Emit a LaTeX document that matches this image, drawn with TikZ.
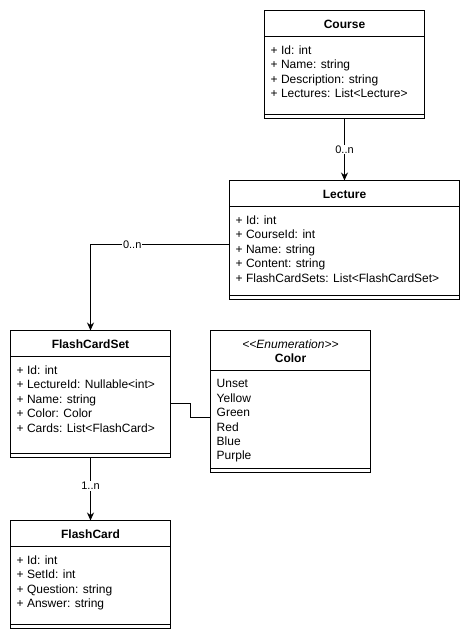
\documentclass[tikz,border=0pt]{standalone}
\usepackage{fontspec}
\setmainfont{Liberation Sans}
\usetikzlibrary{arrows.meta}

\def\rowsize{14.4pt}
\tikzstyle{classbox}=[rectangle, draw=black, line width=1pt, inner sep=0pt, outer sep=0pt, minimum width=160pt]
\tikzstyle{sepline}=[line width=1pt]
\tikzstyle{classname}=[anchor=base, inner sep=0pt, font=\fontsize{12}{14.4}\selectfont\bfseries]
\tikzstyle{attr}=[anchor=base west, inner sep=0pt, font=\fontsize{12}{14.4}\selectfont]
\tikzstyle{mult}=[fill=white, inner sep=1pt, font=\fontsize{11}{13}\selectfont]

\begin{document}
\begin{tikzpicture}[x=1pt, y=-1pt, >={Stealth[length=8pt, width=7pt]}] % y runs down
  \useasboundingbox (0,0) rectangle (470,639);

  % class boxes
  \node [classbox, minimum height=108pt] (course) at (344.5, 64.5) {};
  \node [classbox, minimum width=230pt, minimum height=119pt] (lecture) at (344.5, 240) {};
  \node [classbox, minimum height=127pt] (flashcardset) at (90.5, 394) {};
  \node [classbox, minimum height=142pt] (colorenum) at (290.5, 401.5) {};
  \node [classbox, minimum height=108pt] (flashcard) at (90.5, 574.5) {};

  % header and bottom separators
  \foreach \c/\h in {course/26pt, lecture/26pt, flashcardset/26pt, colorenum/40pt, flashcard/26pt}
  {
    \draw [sepline] ([yshift=-\h]\c.north west) -- ([yshift=-\h]\c.north east);
    \draw [sepline] ([yshift=4pt]\c.south west) -- ([yshift=4pt]\c.south east);
  }

  % class names
  \node [classname] (course-name) at ([yshift=-18pt]course.north) {Course};
  \node [classname] (lecture-name) at ([yshift=-18pt]lecture.north) {Lecture};
  \node [classname] (flashcardset-name) at ([yshift=-18pt]flashcardset.north) {FlashCardSet};
  \node [classname] (flashcard-name) at ([yshift=-18pt]flashcard.north) {FlashCard};
  \node [classname, font=\fontsize{12}{14.4}\selectfont\itshape] (colorenum-stereo) at ([yshift=-17.8pt]colorenum.north) {<\kern0pt<Enumeration>\kern0pt>};
  \node [classname] (colorenum-name) at ([yshift=-32.2pt]colorenum.north) {Color};

  % attributes
  \foreach \t [count=\i] in {+ Id: int, + Name: string, + Description: string, + Lectures: List<Lecture>}
  \node [attr] (course-\i) at ([xshift=6pt, yshift={-29.5pt-\rowsize*\i}]course.north west) {\t};

  \foreach \t [count=\i] in {+ Id: int, + CourseId: int, + Name: string, + Content: string, + FlashCardSets: List<FlashCardSet>}
  \node [attr] (lecture-\i) at ([xshift=6pt, yshift={-29.5pt-\rowsize*\i}]lecture.north west) {\t};

  \foreach \t [count=\i] in {+ Id: int, + LectureId: Nullable<int>, + Name: string, + Color: Color, + Cards: List<FlashCard>}
  \node [attr] (flashcardset-\i) at ([xshift=6pt, yshift={-29.5pt-\rowsize*\i}]flashcardset.north west) {\t};

  \foreach \t [count=\i] in {Unset, Yellow, Green, Red, Blue, Purple}
  \node [attr] (colorenum-\i) at ([xshift=6pt, yshift={-43pt-\rowsize*\i}]colorenum.north west) {\t};

  \foreach \t [count=\i] in {+ Id: int, + SetId: int, + Question: string, + Answer: string}
  \node [attr] (flashcard-\i) at ([xshift=6pt, yshift={-29.5pt-\rowsize*\i}]flashcard.north west) {\t};

  % associations
  \draw [line width=1pt, ->] (course.south) -- (lecture.north) node [mult, midway] {0..n};
  \draw [line width=1pt, ->] ([yshift=-4.5pt]lecture.west) -| (flashcardset.north) node [mult, pos=0.35] {0..n};
  \draw [line width=1pt, ->] (flashcardset.south) -- (flashcard.north) node [mult, pos=0.45] {1..n};

  % color reference
  \coordinate (bend) at (190.5, 410);
  \draw [line width=1pt] ([yshift=-9.3pt]flashcardset.east) -| (bend) |- ([yshift=-16pt]colorenum.west);
\end{tikzpicture}
\end{document}
